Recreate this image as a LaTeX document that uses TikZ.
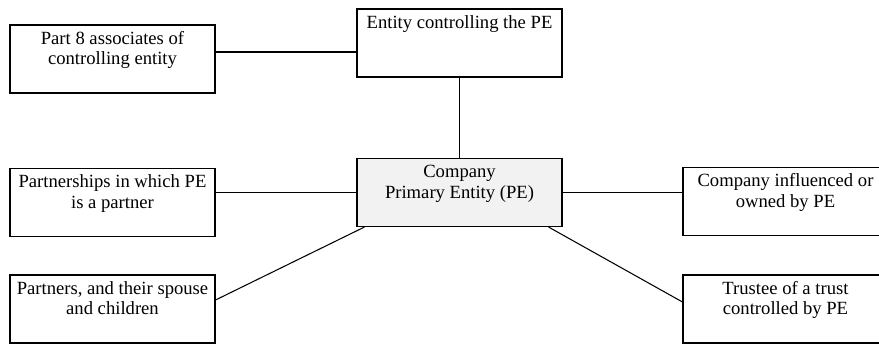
\documentclass[tikz,border=0pt]{standalone}
\usepackage{fontspec}
\setmainfont{Liberation Serif}
\usetikzlibrary{calc,positioning}

\newcommand{\partytext}[1]{\parbox[t][1.16cm][t]{4.1cm}{\centering\strut #1}}

\begin{document}
\begin{tikzpicture}[
  party/.style={rectangle, draw, line width=0.6pt, inner xsep=0pt, inner ysep=0.1cm, font=\fontsize{10.6}{11.6}\selectfont},
  link/.style={line width=0.6pt}
]
\useasboundingbox (0,0) rectangle (17.58,6.9);

% Controlling side
\node[party] (Assoc) at (2.25, 5.72) {\partytext{Part 8 associates of\\controlling entity}};
\node[party] (Ctrl) at (9.19, 6.04) {\partytext{Entity controlling the PE}};

% Primary entity
\node[party, fill=gray!10] (PE) at (9.19, 3.05) {\partytext{Company\\Primary Entity (PE)}};

% Left side
\node[party] (Partnership) at (2.25, 2.85) {\partytext{Partnerships in which PE\\is a partner}};
\node[party] (Partners) at (2.25, 0.72) {\partytext{Partners, and their spouse\\and children}};

% Right side
\node[party] (Influenced) at (15.71, 2.87) {\partytext{Company  influenced or\\owned by PE}};
\node[party] (Trustee) at (15.71, 0.72) {\partytext{Trustee of a trust\\controlled by PE}};

% Links
\draw[link] ([yshift=0.14cm]Assoc.east) -- ([yshift=0.14cm]Assoc.east -| Ctrl.west);
\draw[link] (Ctrl.south) -- (PE.north);
\draw[link] (PE.west) -- (PE.west -| Partnership.east);
\draw[link] (PE.east) -- (PE.east -| Influenced.west);
\draw[link] ([xshift=0.16cm]PE.south west) -- ([yshift=0.18cm]Partners.east);
\draw[link] ([xshift=-0.28cm]PE.south east) -- ([yshift=0.14cm]Trustee.west);

\end{tikzpicture}
\end{document}
